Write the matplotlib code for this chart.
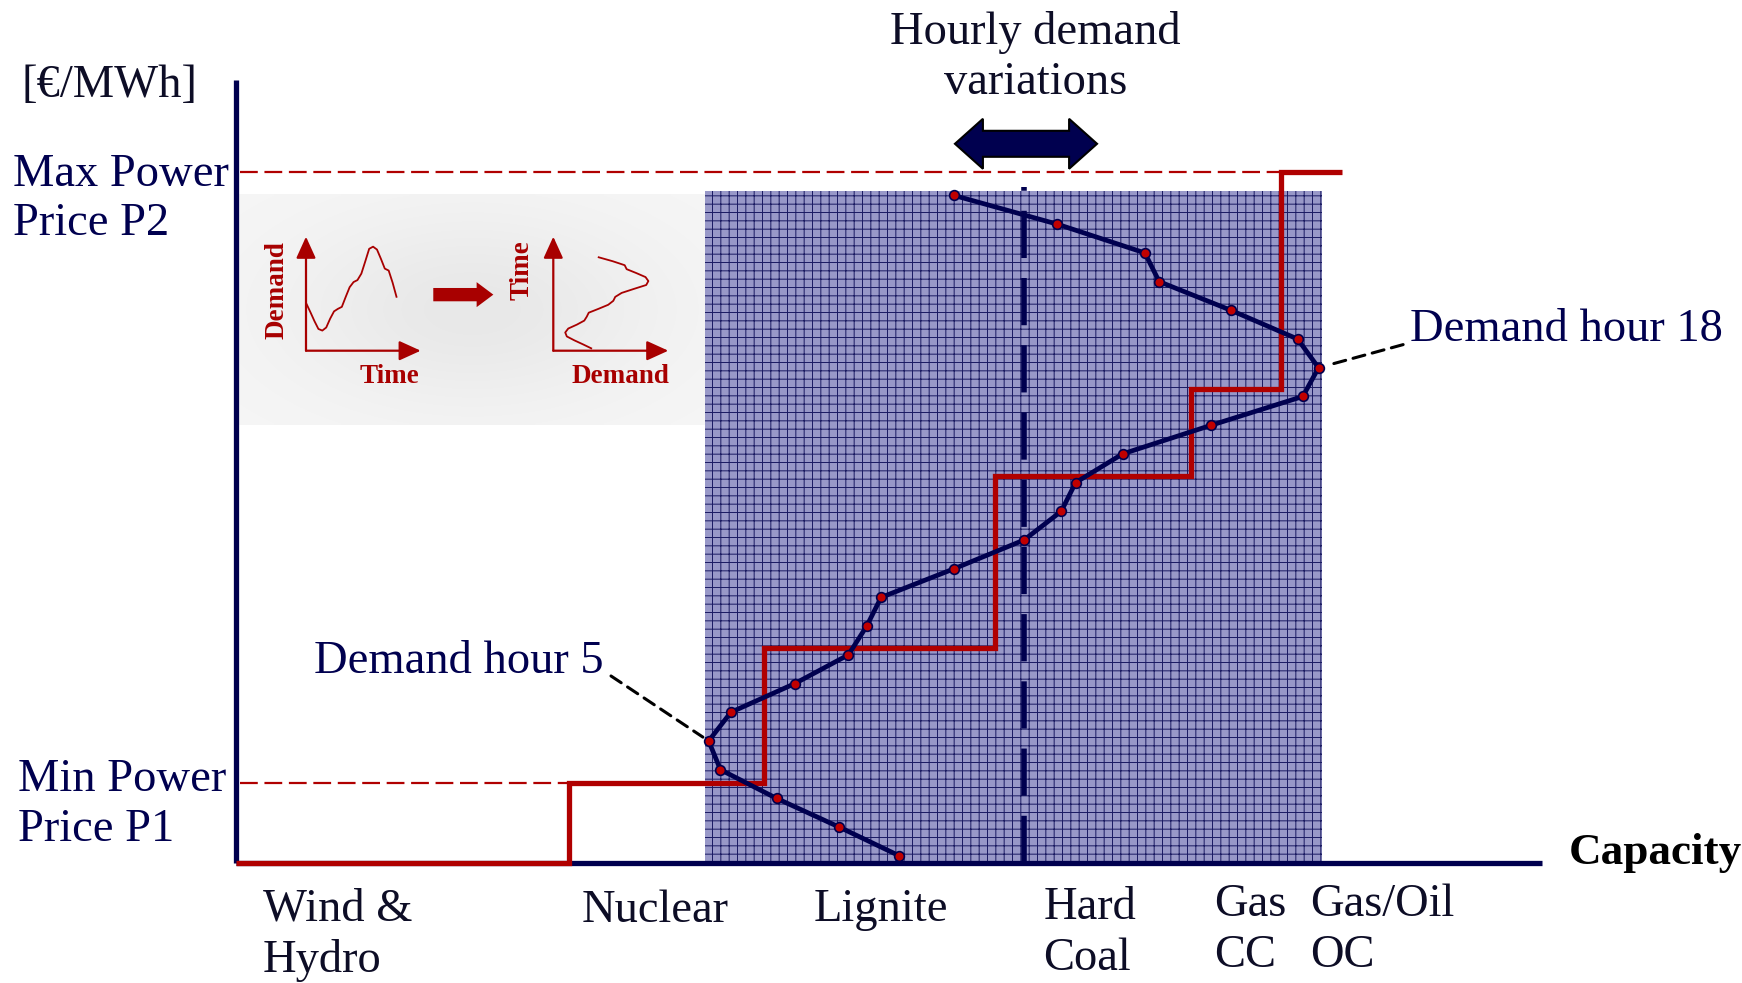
import numpy as np
import matplotlib
matplotlib.use('Agg')
import matplotlib.pyplot as plt
from matplotlib.patches import Polygon, FancyArrow

plt.rcParams['font.family'] = ['Liberation Serif', 'DejaVu Serif']
plt.rcParams['hatch.linewidth'] = 0.7

# merit order curve: capacity block edges and marginal price of each block
techs = ['Wind &\nHydro', 'Nuclear', 'Lignite', 'Hard\nCoal', 'Gas\nCC', 'Gas/Oil\nOC']
cap_edges = [0, 25.5, 40.4, 58.1, 73.1, 80.0, 84.7]
price_levels = [0, 10.2, 27.5, 49.4, 60.5, 88.2]
p_min, p_max = 10.2, 88.2

# hourly demand (hour 1..24)
hours = np.arange(1, 25)
demand = [50.8, 46.2, 41.4, 37.1, 36.2, 37.9, 42.8, 46.9, 48.3, 49.4, 55.0, 60.35,
          63.2, 64.3, 67.9, 74.7, 81.7, 82.9, 81.3, 76.2, 70.7, 69.6, 62.9, 55.0]
avg_demand = 60.35

# where the hour axis sits on the price axis
hour1_price, hour24_price = 0.93, 85.24

navy = '#00004f'
red = '#b00000'
ink = '#0d0d26'

fig = plt.figure(figsize=(17.42, 9.83), dpi=100)
ax = fig.add_axes([0, 0, 1, 1])
ax.set_xlim(-18.07, 115.33)
ax.set_ylim(-15.31, 110.2)
ax.axis('off')

# axes drawn by hand
ax.plot([0, 0], [0, 100], color=navy, lw=3.8, solid_capstyle='butt', zorder=4)
ax.plot([0, 100], [0, 0], color=navy, lw=3.8, solid_capstyle='butt', zorder=4)

# band of hourly demand
d_lo, d_hi = min(demand), max(demand)
k = 23 / (hour24_price - hour1_price)
band_top = hour1_price + (24.15 - 1) / k
ax.fill_between([d_lo - 0.25, d_hi + 0.25], 0, band_top, facecolor='#9898c8',
                edgecolor='#1a1a62', hatch='++', linewidth=0, zorder=1)

# inset background, slightly darker towards the middle
gx, gy = np.meshgrid(np.linspace(-1, 1, 200), np.linspace(-1, 1, 80))
shade = 0.965 - 0.055 * np.exp(-(gx ** 2 * 1.6 + gy ** 2 * 1.4))
ax.imshow(np.dstack([shade, shade, shade]), extent=[0.2, d_lo - 0.25, 55.97, 85.46],
          aspect='auto', zorder=0.5, interpolation='bilinear')

# merit order steps and price references
ax.plot([0.3, cap_edges[1]], [p_min, p_min], color=red, lw=1.6, dashes=(8, 3), zorder=2)
ax.plot([0.3, cap_edges[5]], [p_max, p_max], color=red, lw=1.6, dashes=(8, 3), zorder=2)
ax.stairs(price_levels, cap_edges, baseline=None, color=red, lw=3.8, zorder=5)

# average demand line
ax.plot([avg_demand, avg_demand], [0, 86.3], color=navy, lw=4, dashes=(8.5, 3.6), zorder=6)

# demand curve on its own hour scale
ax2 = ax.twinx()
ylo, yhi = ax.get_ylim()
ax2.set_ylim(1 + (ylo - hour1_price) * k, 1 + (yhi - hour1_price) * k)
ax2.axis('off')
ax2.plot(demand, hours, color=navy, lw=3.4, marker='o', ms=7, mfc='#c00000',
         mec=navy, mew=1.2, zorder=7)

dash_kw = dict(arrowstyle='-', color='black', lw=2.2, linestyle=(0, (4, 2.5)), shrinkA=0)
ax2.annotate('', xy=(demand[4], 5), xytext=(28.72, 23.89), textcoords=ax.transData,
             arrowprops=dict(shrinkB=5, **dash_kw))
ax2.annotate('', xy=(demand[17], 18), xytext=(89.38, 66.2), textcoords=ax.transData,
             arrowprops=dict(shrinkB=6, **dash_kw))


def stack(x, y, text, dy, **kw):
    for i, line in enumerate(text.split('\n')):
        ax.text(x, y - i * dy, line, va='baseline', **kw)


fs = 33.5
ax.text(28.13, 24.23, 'Demand hour 5', ha='right', va='baseline', fontsize=fs, color=navy)
ax.text(89.91, 66.71, 'Demand hour 18', ha='left', va='baseline', fontsize=fs, color=navy)
ax.text(-16.41, 97.87, '[€/MWh]', va='baseline', fontsize=fs, color=ink)
stack(-17.06, 86.39, 'Max Power\nPrice P2', 6.25, fontsize=fs, color=navy)
stack(-16.70, 9.22, 'Min Power\nPrice P1', 6.38, fontsize=fs, color=navy)
stack(61.23, 104.59, 'Hourly demand\nvariations', 6.42, fontsize=fs, color=ink, ha='center')
ax.text(102.08, -0.13, 'Capacity', va='baseline', fontsize=fs - 1, fontweight='bold',
        color='black')

label_x = [2.05, 26.47, 44.21, 61.82, 74.93, 82.29]
label_y = [-7.36, -7.56, -7.36, -7.14, -6.72, -6.72]
for name, lx, ly in zip(techs, label_x, label_y):
    stack(lx, ly, name, 6.5, fontsize=fs, color=ink)

# double arrow for the range of hourly variations
cx, cy, L, hl, sh, hh = avg_demand + 0.15, 91.84, 5.44, 2.14, 1.66, 3.19
ax.add_patch(Polygon([(cx - L, cy), (cx - L + hl, cy + hh), (cx - L + hl, cy + sh),
                      (cx + L - hl, cy + sh), (cx + L - hl, cy + hh), (cx + L, cy),
                      (cx + L - hl, cy - hh), (cx + L - hl, cy - sh), (cx - L + hl, cy - sh),
                      (cx - L + hl, cy - hh)], closed=True, fc=navy, ec='black', lw=1.5,
                     zorder=6))

# small sketch: demand over time -> time over demand
ax.add_patch(FancyArrow(15.11, 72.58, 4.6, 0, width=1.7, head_width=3.19, head_length=1.28,
                        length_includes_head=True, color='#a80000', lw=0, zorder=3))
mini_kw = dict(fontsize=19.5, fontweight='bold', color='#a80000', ha='center', va='center')
ax.text(3.12, 73.21, 'Demand', rotation=90, **mini_kw)
ax.text(11.79, 62.15, 'Time', **mini_kw)
ax.text(21.88, 75.77, 'Time', rotation=90, **mini_kw)
ax.text(29.41, 62.15, 'Demand', **mini_kw)

arrow_kw = dict(arrowstyle='-|>,head_length=0.55,head_width=0.25', color='#a80000', lw=1.6,
                shrinkA=0, shrinkB=0, mutation_scale=24)
left = fig.add_axes([306 / 1742, 1 - 350.7 / 983, 114.7 / 1742, 114 / 983])
left.plot(hours, demand, color='#a80000', lw=1.3)
left.set_xlim(0.82, 30.2)
left.set_ylim(25.0, 88.45)
right = fig.add_axes([553.3 / 1742, 1 - 350.7 / 983, 115 / 1742, 114 / 983])
right.plot(demand, hours, color='#a80000', lw=1.3)
right.set_xlim(29.5, 94.1)
right.set_ylim(0.4, 29.2)
for m in (left, right):
    m.axis('off')
    m.annotate('', xy=(1, 0), xytext=(0, 0), xycoords='axes fraction', arrowprops=arrow_kw)
    m.annotate('', xy=(0, 1), xytext=(0, 0), xycoords='axes fraction', arrowprops=arrow_kw)

fig.savefig('out.png', dpi=100)
